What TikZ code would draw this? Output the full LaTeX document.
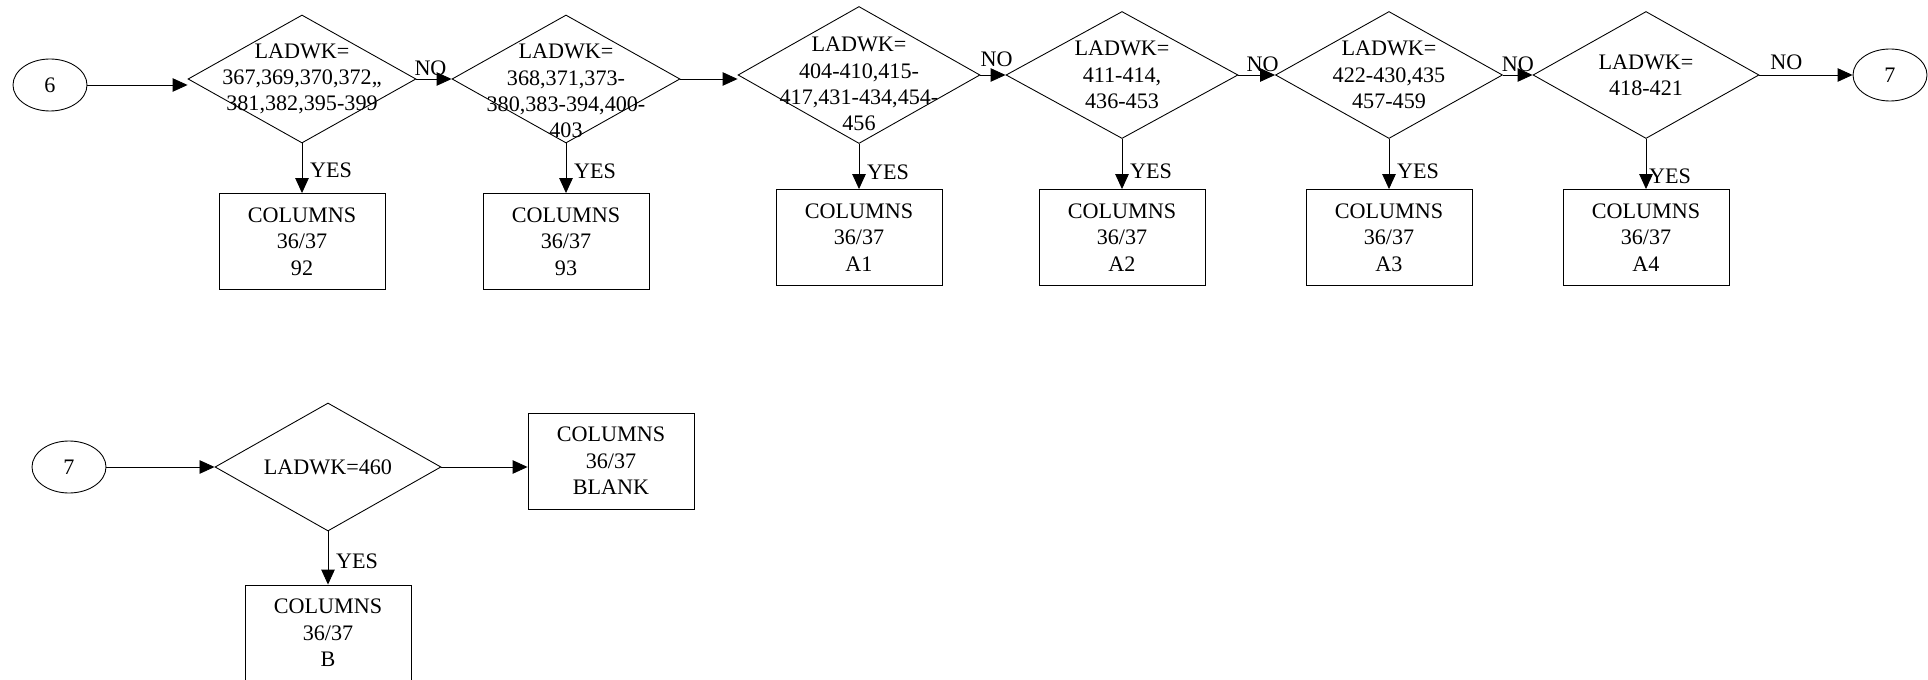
\documentclass[tikz,border=0pt]{standalone}
\usepackage{fontspec}
\setmainfont{Liberation Serif}
\usetikzlibrary{shapes.geometric,arrows.meta,positioning}

\begin{document}
\begin{tikzpicture}[node distance=3.25cm, line width=0.5pt, font=\fontsize{12.6}{15}\selectfont]
        \tikzstyle{arrow} = [-{Triangle[length=0.3cm,width=0.27cm]}]
        \tikzstyle{connector} = [ellipse, minimum width=1.48cm, minimum height=1.04cm, inner sep=0pt, draw=black]
        \tikzstyle{decision} = [diamond, minimum width=4.56cm, minimum height=2.56cm, inner sep=0pt, draw=black]
        \tikzstyle{condition} = [align=center, inner sep=0pt]
        \tikzstyle{columns} = [rectangle, minimum width=3.32cm, minimum height=1.92cm, align=center, draw=black]
        \tikzstyle{answer} = [inner sep=1.5pt]
        \tikzstyle{yes} = [answer, right, xshift=0.1cm]

        \useasboundingbox (0,0) rectangle (38.56,-13.6);

        % first row
        \node (six) [connector] at (1.00,-1.70) {6};
        \node (d1) [decision] at (6.04,-1.58) {};
        \node (d2) [decision, right of=d1, xshift=2.03cm] {};
        \node (d3) [decision, right of=d2, xshift=2.61cm, yshift=0.08cm, minimum width=4.84cm, minimum height=2.74cm] {};
        \node (d4) [decision, right of=d3, xshift=2.01cm, minimum width=4.64cm, minimum height=2.54cm] {};
        \node (d5) [decision, right of=d4, xshift=2.09cm, minimum width=4.54cm, minimum height=2.54cm] {};
        \node (d6) [decision, right of=d5, xshift=1.89cm, minimum width=4.52cm, minimum height=2.54cm] {};
        \node (seven) [connector, right of=d6, xshift=1.63cm] {7};

        \node (d1text) [condition] at (d1) {LADWK=\\367,369,370,372,,\\381,382,395-399};
        \node (d2text) [condition, yshift=-0.24cm] at (d2) {LADWK=\\368,371,373-\\380,383-394,400-\\403};
        \node (d3text) [condition, yshift=-0.18cm] at (d3) {LADWK=\\404-410,415-\\417,431-434,454-\\456};
        \node (d4text) [condition] at (d4) {LADWK=\\411-414,\\436-453};
        \node (d5text) [condition] at (d5) {LADWK=\\422-430,435\\457-459};
        \node (d6text) [condition] at (d6) {LADWK=\\418-421};

        \node (col92) [columns, below of=d1] {COLUMNS\\36/37\\92};
        \node (col93) [columns, below of=d2] {COLUMNS\\36/37\\93};
        \node (cola1) [columns, below of=d3] {COLUMNS\\36/37\\A1};
        \node (cola2) [columns, below of=d4] {COLUMNS\\36/37\\A2};
        \node (cola3) [columns, below of=d5] {COLUMNS\\36/37\\A3};
        \node (cola4) [columns, below of=d6] {COLUMNS\\36/37\\A4};

        \draw [arrow] (six) -- (six -| d1.west);
        \draw [arrow] (d1.east) -- node (no1) [answer, above, pos=0.4] {NO} (d1.east -| d2.west);
        \draw [arrow] (d2.east) -- (d2.east -| d3.west);
        \draw [arrow] (d3.east) -- node (no3) [answer, above, pos=0.64, yshift=0.1cm] {NO} (d3.east -| d4.west);
        \draw [arrow] (d4.east) -- node (no4) [answer, above, pos=0.66] {NO} (d4.east -| d5.west);
        \draw [arrow] (d5.east) -- node (no5) [answer, above, pos=0.5] {NO} (d5.east -| d6.west);
        \draw [arrow] (d6.east) -- node (no6) [answer, above, pos=0.29, yshift=0.05cm] {NO} (d6.east -| seven.west);

        \draw [arrow] (d1) -- node (yes1) [yes, pos=0.55] {YES} (col92);
        \draw [arrow] (d2) -- node (yes2) [yes, pos=0.57] {YES} (col93);
        \draw [arrow] (d3) -- node (yes3) [yes, pos=0.62] {YES} (cola1);
        \draw [arrow] (d4) -- node (yes4) [yes, pos=0.65] {YES} (cola2);
        \draw [arrow] (d5) -- node (yes5) [yes, pos=0.65] {YES} (cola3);
        \draw [arrow] (d6) -- node (yes6) [yes, pos=0.75, xshift=-0.1cm] {YES} (cola4);

        % second row
        \node (seven2) [connector] at (1.38,-9.34) {7};
        \node (d7) [decision, right of=seven2, xshift=1.93cm, minimum width=4.52cm] {};
        \node (d7text) [condition] at (d7) {LADWK=460};
        \node (colblank) [columns, right of=d7, xshift=2.41cm, yshift=0.12cm] {COLUMNS\\36/37\\BLANK};
        \node (colb) [columns, below of=d7, yshift=-0.07cm] {COLUMNS\\36/37\\B};

        \draw [arrow] (seven2) -- (d7);
        \draw [arrow] (d7.east) -- (d7.east -| colblank.west);
        \draw [arrow] (d7) -- node (yes7) [yes, pos=0.57] {YES} (colb);

    \end{tikzpicture}
\end{document}
